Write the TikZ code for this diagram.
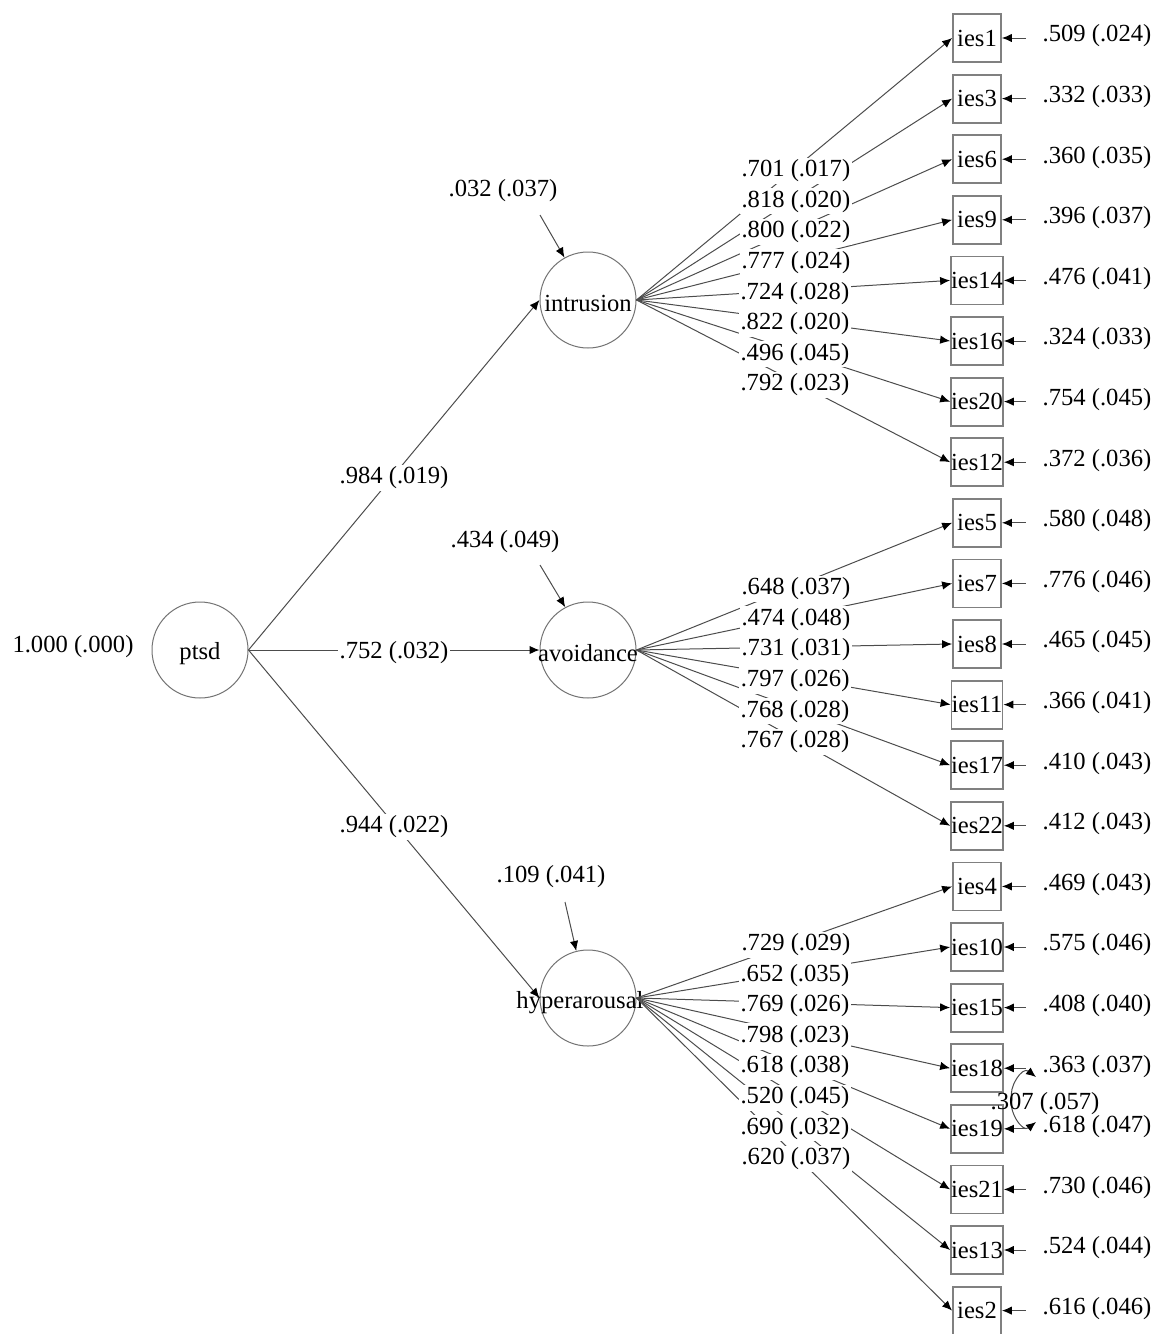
\documentclass[tikz,border=0pt]{standalone}
\usepackage{fontspec}
\setmainfont{Liberation Serif}
\usetikzlibrary{arrows.meta}

\def\loadlist{intr/1/.701 (.017),intr/3/.818 (.020),intr/6/.800 (.022),
      intr/9/.777 (.024),intr/14/.724 (.028),intr/16/.822 (.020),intr/20/.496 (.045),
      intr/12/.792 (.023),avoid/5/.648 (.037),avoid/7/.474 (.048),avoid/8/.731 (.031),
      avoid/11/.797 (.026),avoid/17/.768 (.028),avoid/22/.767 (.028),
      hyper/4/.729 (.029),hyper/10/.652 (.035),hyper/15/.769 (.026),hyper/18/.798 (.023),
      hyper/19/.618 (.038),hyper/21/.520 (.045),hyper/13/.690 (.032),hyper/2/.620 (.037)}

\begin{document}
\begin{tikzpicture}[x=0.5pt,y=-0.5pt,>={Latex[length=5pt,width=4.2pt,color=black]},font=\fontsize{12.3}{14}\selectfont]
  \tikzstyle{latent}=[draw=black!55,circle,minimum size=48pt,inner sep=0pt,line width=0.5pt]
  \tikzstyle{obs}=[draw=black!50,minimum size=24pt,inner sep=0pt,line width=0.9pt]
  \tikzstyle{path}=[draw=black!70,->,line width=0.5pt]
  \tikzstyle{est}=[fill=white,inner sep=1pt,yshift=-1.5pt]
  \useasboundingbox (0,0) rectangle (1159,1334);

  % latent variables
  \node[latent,label={[yshift=-2pt]center:ptsd}] (ptsd) at (200,650) {};
  \node[latent,label={[yshift=-1.5pt]center:intrusion}] (intr) at (588,300) {};
  \node[latent,label={[yshift=-1.5pt]center:avoidance}] (avoid) at (588,650) {};
  \node[latent,label={[xshift=-4pt,yshift=-2.5pt]center:hyperarousal}] (hyper) at (588,998) {};
  \node (vptsd) at (73,647) {1.000 (.000)};

  % second order loadings
  \draw[path] (ptsd.east) -- node[est] {.984 (.019)} (intr.west);
  \draw[path] (ptsd.east) -- node[est] {.752 (.032)} (avoid.west);
  \draw[path] (ptsd.east) -- node[est] {.944 (.022)} (hyper.west);

  % disturbances
  \node (dintr) at (503,191) {.032 (.037)};
  \node (davoid) at (505,542) {.434 (.049)};
  \node (dhyper) at (551,877) {.109 (.041)};
  \coordinate (sintr) at (540,215);
  \coordinate (savoid) at (540,565);
  \coordinate (shyper) at (565,902);
  \draw[path] (sintr) -- (intr.119);
  \draw[path] (savoid) -- (avoid.118);
  \draw[path] (shyper) -- (hyper.104);

  % indicators and residual variances
  \foreach \v/\r [count=\i] in {1/.509 (.024),3/.332 (.033),6/.360 (.035),9/.396 (.037),
      14/.476 (.041),16/.324 (.033),20/.754 (.045),12/.372 (.036),5/.580 (.048),
      7/.776 (.046),8/.465 (.045),11/.366 (.041),17/.410 (.043),22/.412 (.043),
      4/.469 (.043),10/.575 (.046),15/.408 (.040),18/.363 (.037),19/.618 (.047),
      21/.730 (.046),13/.524 (.044),2/.616 (.046)} {
    \node[obs] (ies\v) at (977,{38+60.6*(\i-1)}) {\raisebox{-1pt}{ies\v}};
    \node (res\v) at (1097,{36+60.6*(\i-1)}) {\r};
    \draw[path,shorten <=5pt] (res\v.west |- ies\v) -- (ies\v.east);
  }

  % first order loadings: lines first, estimates on top
  \foreach \f/\v/\l in \loadlist
    \draw[path] (\f.east) -- (ies\v.west);
  \foreach \f/\v/\l in \loadlist
    \path (\f.east) -- node[est,pos=0.505] {\l} (ies\v.west);

  % residual covariance
  \coordinate (t18) at (1036,1077);
  \coordinate (t19) at (1036,1122);
  \draw[path,<->] (t18) .. controls (1022,1066) and (1008,1088) .. (1012,1099)
    .. controls (1008,1110) and (1022,1133) .. (t19);
  \node (cov) at (1045,1104) {.307 (.057)};
\end{tikzpicture}
\end{document}
